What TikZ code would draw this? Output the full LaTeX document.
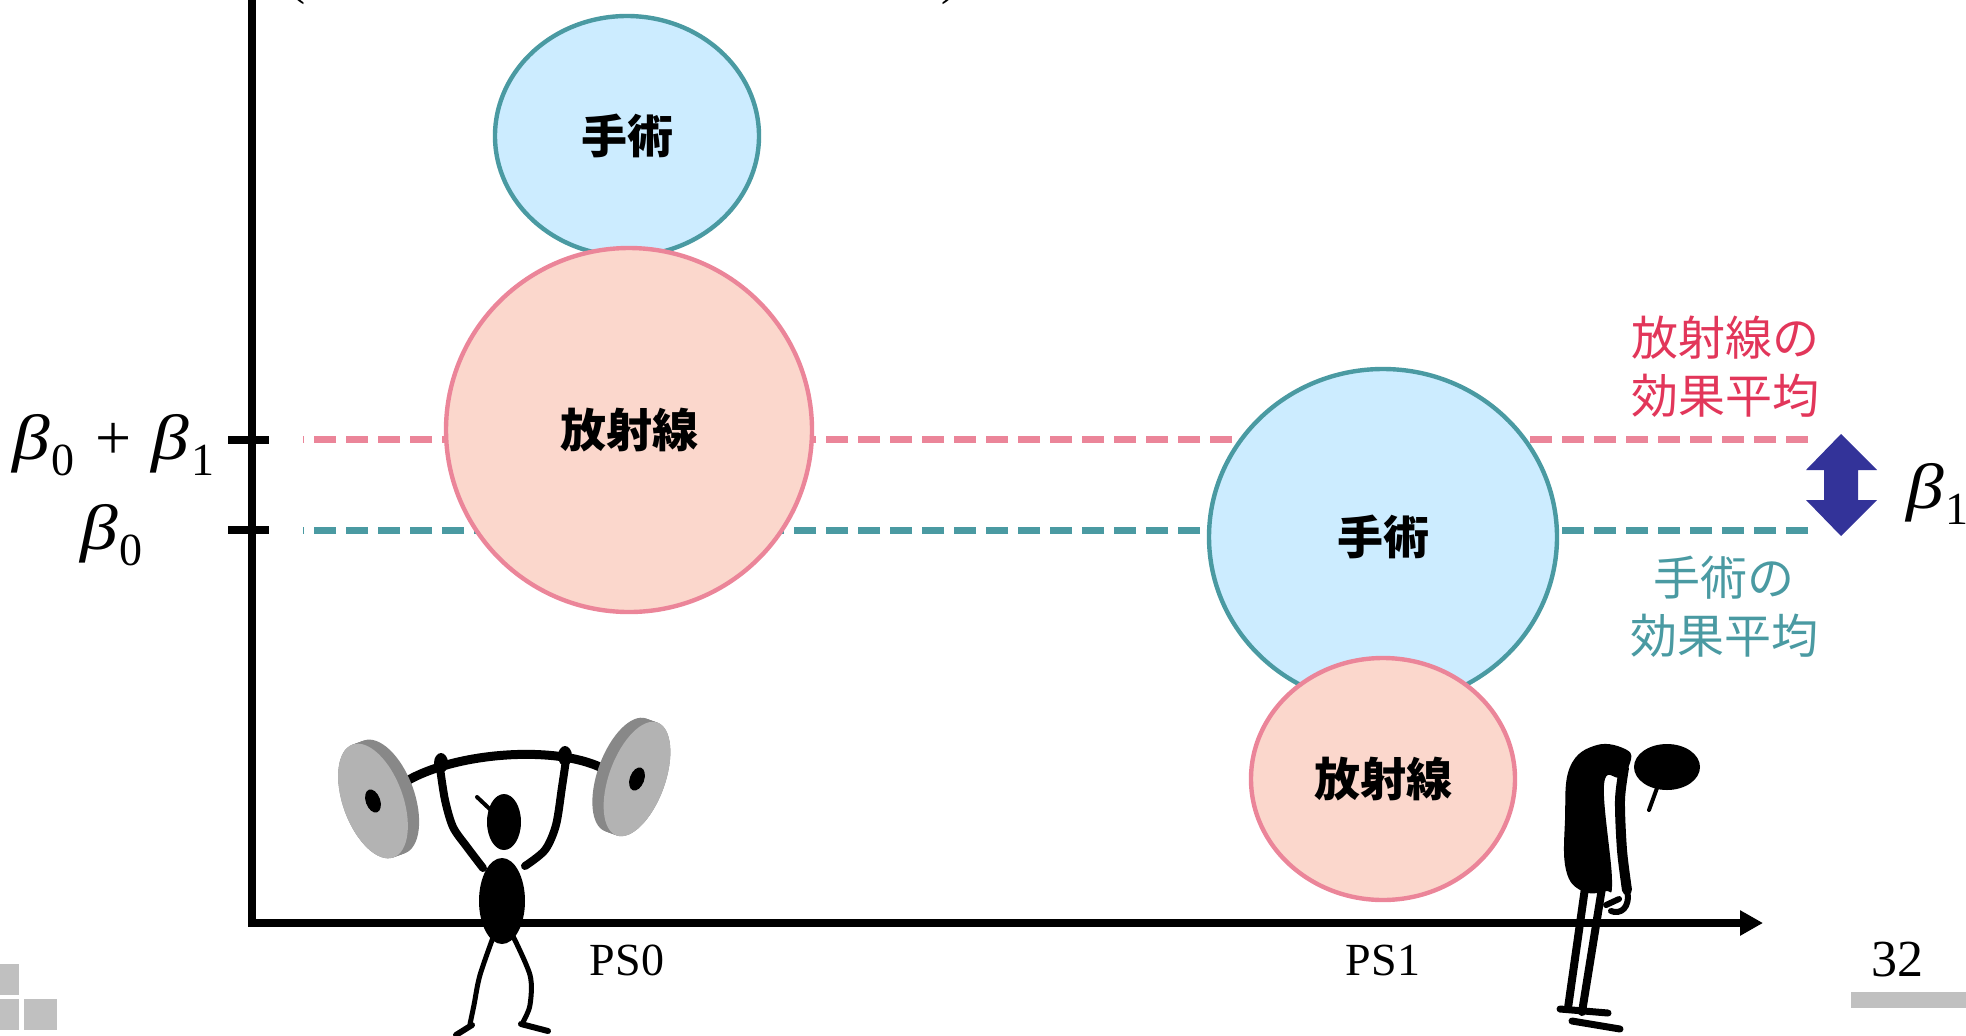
\documentclass[tikz,border=0pt]{standalone}
\usepackage{fontspec}
\setmainfont{Liberation Serif}
\newfontfamily\cjk{Noto Sans CJK JP}
\usetikzlibrary{shapes.geometric,arrows.meta}

\definecolor{tealline}{RGB}{74,154,162}
\definecolor{bluefill}{RGB}{204,236,255}
\definecolor{pinkline}{RGB}{235,133,153}
\definecolor{peachfill}{RGB}{251,215,204}
\definecolor{redtext}{RGB}{226,54,90}
\definecolor{navyarrow}{RGB}{51,51,153}
\definecolor{slidegray}{RGB}{192,192,192}
\definecolor{platelight}{RGB}{179,179,179}
\definecolor{platedark}{RGB}{136,136,136}

% italic beta with an upright, lowered index
\newcommand\betasub[1]{\scalebox{1.18}[1]{\textit{β}}\kern0.03em\raisebox{-0.26em}{\fontsize{23}{23}\selectfont #1}}

\begin{document}
\begin{tikzpicture}[x=0.5pt, y=-0.5pt, line join=round,
  treat/.style={ellipse, draw=tealline, fill=bluefill, line width=2.2pt, inner sep=0pt,
    font=\cjk\bfseries\fontsize{23}{23}\selectfont},
  rad/.style={ellipse, draw=pinkline, fill=peachfill, line width=2.2pt, inner sep=0pt,
    font=\cjk\bfseries\fontsize{23}{23}\selectfont},
  meanline/.style={dash pattern=on 11pt off 5pt, line width=3.5pt},
  axisline/.style={line width=4pt},
  tickmark/.style={line width=4pt},
  efflabel/.style={align=center, inner sep=0pt, font=\cjk\fontsize{23.5}{29}\selectfont},
  betalabel/.style={inner sep=0pt, font=\fontsize{32}{32}\selectfont},
  grouplabel/.style={inner sep=0pt, font=\fontsize{23}{23}\selectfont},
  silhouette/.style={line cap=round, line join=round}]

\useasboundingbox (0,0) rectangle (1966,1035);

% clipped fragments of the heading
\node[inner sep=0pt, anchor=base west, font=\fontsize{24}{24}\selectfont] (lpar) at (289,-6) {(};
\node[inner sep=0pt, anchor=base west, font=\fontsize{24}{24}\selectfont] (rpar) at (941,-6) {)};

% axes
\coordinate (ytop) at (252,-8);
\coordinate (orig) at (252,923);
\coordinate (xend) at (1763,923);
\draw[axisline, line join=miter, -{Triangle[length=11.5pt,width=12pt]}] (ytop) -- (orig) -- (xend);

% ticks
\coordinate (tickAl) at (228,440); \coordinate (tickAr) at (269,440);
\coordinate (tickBl) at (228,530); \coordinate (tickBr) at (269,530);
\draw[tickmark] (tickAl) -- (tickAr);
\draw[tickmark] (tickBl) -- (tickBr);

% mean levels
\coordinate (radR) at (1808,439); \coordinate (radL) at (303,439);
\coordinate (trtR) at (1808,530); \coordinate (trtL) at (303,530);
\draw[meanline, pinkline] (radR) -- (radL);
\draw[meanline, tealline] (trtR) -- (trtL);

% groups
\node[treat, minimum width=132pt, minimum height=120pt] (ps0treat) at (627,136) {手術};
\node[rad, minimum width=183pt, minimum height=182pt] (ps0rad) at (629,430) {放射線};
\node[treat, minimum width=174pt, minimum height=168pt] (ps1treat) at (1383,537) {手術};
\node[rad, minimum width=132pt, minimum height=121pt] (ps1rad) at (1383,779) {放射線};

% axis labels
\node[betalabel, anchor=base west] (bsum) at (12,459) {\betasub{0}\hspace{0.32em}+\hspace{0.32em}\betasub{1}};
\node[betalabel, anchor=base west] (bzero) at (80,549) {\betasub{0}};
\node[grouplabel] (ps0) at (627,960) {PS0};
\node[grouplabel] (ps1) at (1383,960) {PS1};

% effect labels
\node[efflabel, text=redtext] (radmean) at (1725,367) {放射線の\\効果平均};
\node[efflabel, text=tealline] (trtmean) at (1724,607) {手術の\\効果平均};

% difference arrow
\coordinate (up) at (1841,434);
\coordinate (dn) at (1841,536);
\fill[navyarrow] (up) -- (1877,470) -- (1858,470) -- (1858,500) -- (1877,500) -- (dn)
  -- (1806,500) -- (1824,500) -- (1824,470) -- (1806,470) -- cycle;
\node[betalabel, anchor=base west] (bone) at (1906,508) {\betasub{1}};

% weightlifter
\begin{scope}[silhouette]
  \draw[line width=4.5pt] (405,782) .. controls (455,752) and (555,745) .. (602,768);
  \begin{scope}[shift={(373,801)}, rotate=-70]
    \foreach \o in {0,1,...,6} \fill[platedark] (0,\o pt) ellipse [x radius=30pt, y radius=15pt];
    \fill[platelight] (0,0) ellipse [x radius=30pt, y radius=15pt];
    \fill (0,0) ellipse [x radius=6pt, y radius=3.6pt];
  \end{scope}
  \begin{scope}[shift={(637,779)}, rotate=70]
    \foreach \o in {0,1,...,6} \fill[platedark] (0,\o pt) ellipse [x radius=30pt, y radius=14pt];
    \fill[platelight] (0,0) ellipse [x radius=30pt, y radius=14pt];
    \fill (0,0) ellipse [x radius=6pt, y radius=3.6pt];
  \end{scope}
  \fill (441,763) ellipse [x radius=3.5pt, y radius=5pt];
  \fill (565,756) ellipse [x radius=3.5pt, y radius=5pt];
  \draw[line width=4pt] plot[smooth] coordinates {(440,768) (445,800) (453,827) (467,847) (483,868)};
  \draw[line width=4pt] plot[smooth] coordinates {(566,760) (562,787) (556,825) (545,850) (525,866)};
  \fill (504,822) ellipse [x radius=8.5pt, y radius=14pt];
  \draw[line width=2pt] (477,797) -- (494,813);
  \fill (502,901) ellipse [x radius=11.5pt, y radius=21.5pt];
  \draw[line width=2.5pt] plot[smooth] coordinates {(495,932) (480,975) (474,1005) (470,1024)};
  \draw[line width=3pt] (456,1035) -- (472,1025);
  \draw[line width=2.5pt] plot[smooth] coordinates {(511,932) (530,975) (530,1005) (523,1022)};
  \draw[line width=3pt] (521,1024) -- (548,1031);
\end{scope}

% slumped figure
\begin{scope}[silhouette]
  \fill plot[smooth cycle, tension=0.7] coordinates {(1565,820) (1570,767) (1597,745) (1627,750)
    (1630,763) (1620,777) (1604,785) (1612,880) (1605,891) (1582,891) (1566,870)};
  \draw[line width=5pt] plot[smooth] coordinates {(1624,768) (1620,800) (1622,850) (1627,890)};
  \draw[line width=3pt] (1627,890) .. controls (1631,908) and (1620,915) .. (1611,911);
  \draw[line width=3pt] (1606,905) -- (1619,899);
  \fill (1667,767) ellipse [x radius=16.5pt, y radius=11.5pt];
  \draw[line width=2pt] (1657,788) -- (1649,810);
  \draw[line width=4pt] (1585,888) -- (1568,1008);
  \draw[line width=4pt] (1602,888) -- (1582,1012);
  \draw[line width=3.5pt] (1560,1009) -- (1608,1013);
  \draw[line width=3.5pt] (1572,1021) -- (1620,1029);
\end{scope}

% slide furniture
\fill[slidegray] (0,964) rectangle (19,995);
\fill[slidegray] (0,999) rectangle (19,1030);
\fill[slidegray] (24,999) rectangle (57,1030);
\fill[slidegray] (1851,992) rectangle (1966,1008);
\node[inner sep=0pt, font=\fontsize{26}{26}\selectfont] (pageno) at (1897,960) {32};

\end{tikzpicture}
\end{document}
